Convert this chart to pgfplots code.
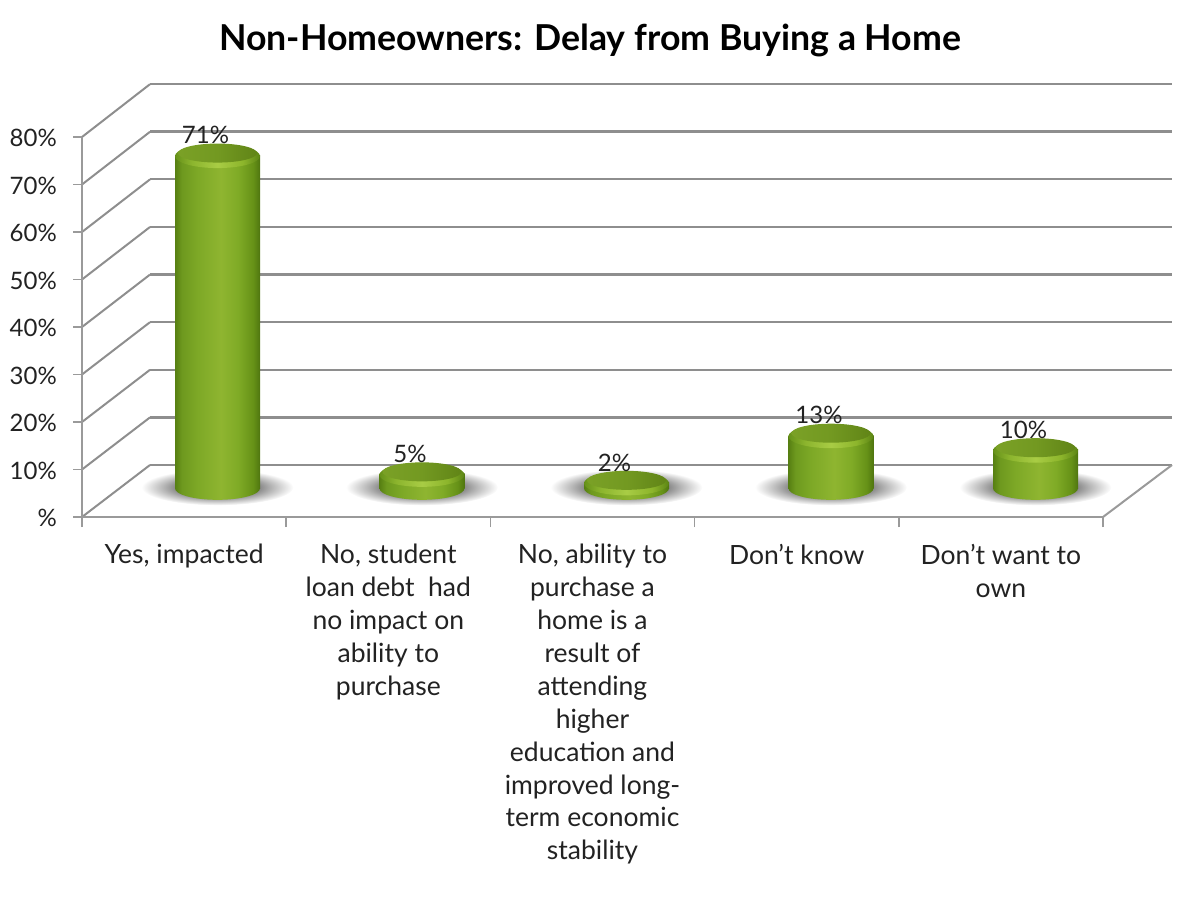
\documentclass[border=0pt]{standalone}
\usepackage{pgfplots}
\pgfplotsset{compat=1.18}
\usepackage{fontspec}
\setmainfont{Lato}
\definecolor{gridc}{HTML}{8E8E8E}
\definecolor{axc}{HTML}{9A9A9A}
\definecolor{txt}{HTML}{222222}
\pgfdeclarehorizontalshading{cyl}{100bp}{rgb(0bp)=(.34,.50,.07); rgb(25bp)=(.34,.50,.07); rgb(29bp)=(.43,.60,.12); rgb(38bp)=(.49,.66,.15); rgb(52bp)=(.56,.71,.19); rgb(62bp)=(.50,.67,.15); rgb(71bp)=(.40,.57,.09); rgb(75bp)=(.31,.46,.06); rgb(100bp)=(.31,.46,.06)}
\pgfdeclarehorizontalshading{rim}{100bp}{rgb(0bp)=(.40,.57,.10); rgb(25bp)=(.40,.57,.10); rgb(35bp)=(.55,.71,.18); rgb(50bp)=(.66,.80,.27); rgb(65bp)=(.55,.71,.17); rgb(75bp)=(.36,.52,.08); rgb(100bp)=(.36,.52,.08)}
\pgfdeclarehorizontalshading{face}{100bp}{rgb(0bp)=(.48,.63,.15); rgb(25bp)=(.48,.63,.15); rgb(50bp)=(.45,.60,.13); rgb(75bp)=(.38,.52,.09); rgb(100bp)=(.38,.52,.09)}
\pgfdeclareradialshading{shad}{\pgfpointorigin}{rgb(0bp)=(.36,.36,.36); rgb(11bp)=(.42,.42,.42); rgb(18bp)=(.72,.72,.72); rgb(25bp)=(1,1,1); rgb(50bp)=(1,1,1)}
\pgfdeclareplotmark{shadowmark}{\path[shade,shading=shad,draw=none,rotate=7] (0pt,1pt) ellipse (76pt and 18pt);}
\pgfdeclareplotmark{basemark}{\path[shade,shading=cyl,draw=none] (0pt,0pt) ellipse (42.5pt and 11.5pt);}
\pgfdeclareplotmark{capmark}{%
  \path[shade,shading=rim,draw=none] (0pt,-1pt) ellipse (42.5pt and 12pt);
  \path[shade,shading=face,draw=none,rotate=3] (0pt,2pt) ellipse (39.5pt and 9.5pt);
}
% the thinnest disc: its top stands a little above its base
\pgfdeclareplotmark{capmarkthin}{%
  \path[shade,shading=cyl,draw=none] (-42.5pt,0pt) rectangle (42.5pt,6pt);
  \path[shade,shading=rim,draw=none] (0pt,5pt) ellipse (42.5pt and 12pt);
  \path[shade,shading=face,draw=none,rotate=3] (0pt,8pt) ellipse (39.5pt and 9.5pt);
}
\pgfplotstableread{
x top base
0.5 71 2
1.5 5 2
2.5 2 2
3.5 13 2
4.5 10 2
}\bars
\pgfplotstableread{
x top
0.5 71
1.5 5
3.5 13
4.5 10
}\tall
\pgfplotstableread{
x top
2.5 2
}\thin
\begin{document}
\begin{tikzpicture}[x=1pt,y=1pt]
\path[use as bounding box] (0,0) rectangle (1200,911);
\node[text=black,font=\fontsize{35.7}{42}\selectfont\bfseries] at (590,871) {Non-Homeowners: Delay from Buying a Home};
% back wall
\begin{axis}[at={(150pt,446pt)},anchor=south west,scale only axis,width=1022pt,height=381pt,
  xmin=0,xmax=5,ymin=0,ymax=80,axis line style={draw=none},xtick=\empty,
  ytick={0,10,...,80},yticklabels={},major y tick style={draw=none},
  ymajorgrids,grid style={draw=gridc,line width=2.4pt}]
\end{axis}
% side wall and floor
\foreach \v in {0,...,8}{
  \draw[gridc,line width=2pt] (82,{394+47.5*\v}) -- (150,{446+47.6*\v});
}
\draw[axc,line width=2pt] (1103,394) -- (1172,446);
% front plane
\begin{axis}[at={(82pt,394pt)},anchor=south west,scale only axis,width=1021pt,height=380pt,
  xmin=0,xmax=5,ymin=0,ymax=80,
  axis x line*=bottom,axis y line*=left,
  axis line style={draw=axc,line width=2pt,-},
  tick align=outside,
  ytick={0,10,...,80},
  yticklabels={\%,10\%,20\%,30\%,40\%,50\%,60\%,70\%,80\%},
  major tick length=9pt,minor tick length=10pt,
  major y tick style={draw=axc,line width=1.6pt},
  minor x tick style={draw=axc,line width=1.6pt},
  major x tick style={draw=none},
  xtick={0.5,1.5,2.5,3.5,4.5},
  minor xtick={0,1,2,3,4,5},
  xticklabels={
    {Yes, impacted},
    {No, student\\loan debt\ \ had\\no impact on\\ability to\\purchase},
    {No, ability to\\purchase a\\home is a\\result of\\attending\\higher\\education and\\improved long-\\term economic\\stability},
    {Don't know},
    {Don't want to\\own}},
  yticklabel style={font=\fontsize{24}{28}\selectfont,text=txt,inner sep=0pt,xshift=-16pt,yshift=-1pt},
  xticklabel style={font=\fontsize{26.5}{32.9}\selectfont,text=txt,align=center,anchor=north,yshift=-14pt,inner sep=4pt}]
\end{axis}
% cylinders
\begin{axis}[at={(115.25pt,422.66pt)},anchor=south west,scale only axis,width=1022.5pt,height=376.74pt,
  xmin=0,xmax=5,ymin=2,ymax=80,hide axis,clip mode=individual,
  nodes near coords style={font=\fontsize{24}{28}\selectfont,text=txt,inner sep=0pt}]
\addplot[only marks,mark=shadowmark] table[x=x,y=base] {\bars};
\addplot[only marks,mark=basemark] table[x=x,y=base] {\bars};
\addplot[ybar,bar width=85pt,bar shift=0pt,draw=none,shade,shading=cyl] coordinates {(0.5,71)};
\addplot[ybar,bar width=85pt,bar shift=0pt,draw=none,shade,shading=cyl] coordinates {(1.5,5)};
\addplot[ybar,bar width=85pt,bar shift=0pt,draw=none,shade,shading=cyl] coordinates {(3.5,13)};
\addplot[ybar,bar width=85pt,bar shift=0pt,draw=none,shade,shading=cyl] coordinates {(4.5,10)};
\addplot[only marks,mark=capmark,
  point meta=y,
  nodes near coords={\pgfmathprintnumber[assume math mode=true]{\pgfplotspointmeta}\%},
  every node near coord/.append style={anchor=center,xshift=-12pt,yshift=20pt}]
  table[x=x,y=top] {\tall};
\addplot[only marks,mark=capmarkthin,
  point meta=y,
  nodes near coords={\pgfmathprintnumber[assume math mode=true]{\pgfplotspointmeta}\%},
  every node near coord/.append style={anchor=center,xshift=-12pt,yshift=25pt}]
  table[x=x,y=top] {\thin};
\end{axis}
\end{tikzpicture}
\end{document}
